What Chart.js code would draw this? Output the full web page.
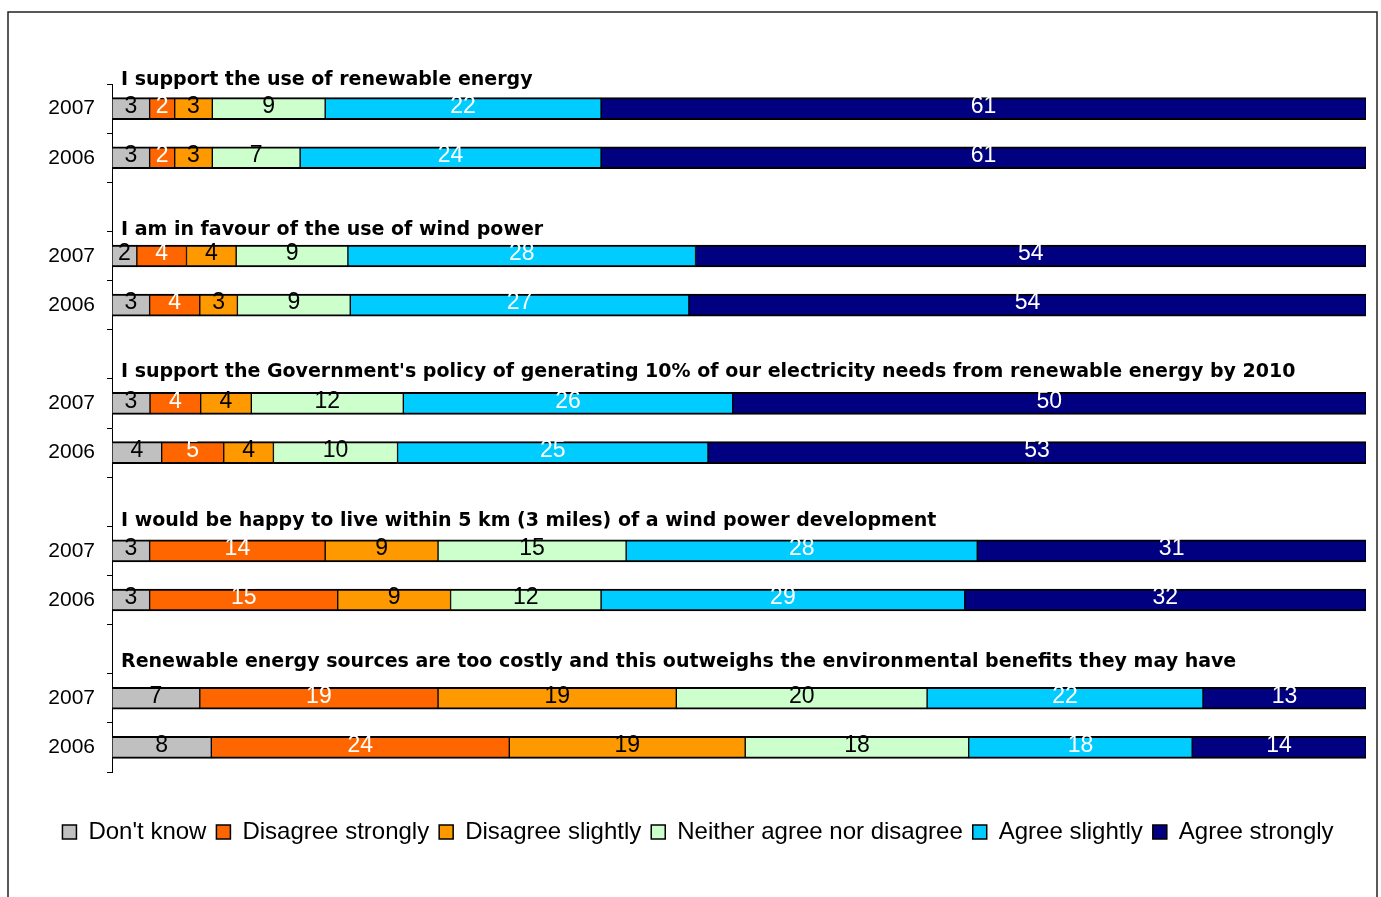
<!DOCTYPE html>
<html>
<head>
<meta charset="utf-8">
<script src="https://cdn.jsdelivr.net/npm/chart.js@4"></script>
<style>
  body { margin: 0; background: white; }
  #wrap { width: 1381px; height: 897px; }
</style>
</head>
<body>
<div id="wrap"><canvas id="myChart" width="1381" height="897"></canvas></div>
<script>
// Row labels (blank rows hold the statement titles)
yearLabels = ['2007', '2006', '', '2007', '2006', '', '2007', '2006', '', '2007', '2006', '', '2007', '2006']

// Statement titles, each sits above its 2007 row
statements = [
    'I support the use of renewable energy',
    'I am in favour of the use of wind power',
    "I support the Government's policy of generating 10% of our electricity needs from renewable energy by 2010",
    'I would be happy to live within 5 km (3 miles) of a wind power development',
    'Renewable energy sources are too costly and this outweighs the environmental benefits they may have'
]

// Series (percent of respondents)
seriesNames = ["Don't know", 'Disagree strongly', 'Disagree slightly', 'Neither agree nor disagree', 'Agree slightly', 'Agree strongly']
dontKnow         = [3, 3, null, 2, 3, null, 3, 4, null, 3, 3, null, 7, 8]
disagreeStrongly = [2, 2, null, 4, 4, null, 4, 5, null, 14, 15, null, 19, 24]
disagreeSlightly = [3, 3, null, 4, 3, null, 4, 4, null, 9, 9, null, 19, 19]
neither          = [9, 7, null, 9, 9, null, 12, 10, null, 15, 12, null, 20, 18]
agreeSlightly    = [22, 24, null, 28, 27, null, 26, 25, null, 28, 29, null, 22, 18]
agreeStrongly    = [61, 61, null, 54, 54, null, 50, 53, null, 31, 32, null, 13, 14]

// Formatting
seriesColors = ['#C0C0C0', '#FF6600', '#FF9900', '#CCFFCC', '#00CCFF', '#000080']
labelColors = ['black', 'white', 'black', 'black', 'white', 'white']
fontFamily = '"Liberation Sans", Arial, sans-serif'
titleOffsets = [29, 26, 31, 30, 36]   // px above the 2007 bar centre

allSeries = [dontKnow, disagreeStrongly, disagreeSlightly, neither, agreeSlightly, agreeStrongly]

// Bars are drawn as 100% stacked, so each row is scaled by its own total
rowTotals = yearLabels.map((l, i) => allSeries.reduce((s, arr) => s + (arr[i] || 0), 0))
function toPercent(arr) {
    return arr.map((v, i) => v === null ? null : v / rowTotals[i] * 100)
}

// Value labels in the middle of each segment
const valueLabels = {
    id: 'valueLabels',
    afterDatasetsDraw(chart) {
        const ctx = chart.ctx
        ctx.save()
        ctx.font = '23px ' + fontFamily
        ctx.textAlign = 'center'
        ctx.textBaseline = 'middle'
        chart.data.datasets.forEach((ds, di) => {
            const meta = chart.getDatasetMeta(di)
            meta.data.forEach((bar, i) => {
                const raw = ds.rawValues[i]
                if (raw === null) return
                const c = bar.getCenterPoint()
                ctx.fillStyle = labelColors[di]
                ctx.fillText(String(raw), c.x, c.y - 2)
            })
        })
        ctx.restore()
    }
}

// Statement titles and the outer frame
const titlesAndFrame = {
    id: 'titlesAndFrame',
    afterDraw(chart) {
        const ctx = chart.ctx
        const yScale = chart.scales.y
        ctx.save()
        ctx.font = 'bold 19px "DejaVu Sans", Verdana, sans-serif'
        ctx.fillStyle = 'black'
        ctx.textAlign = 'left'
        ctx.textBaseline = 'middle'
        statements.forEach((t, k) => {
            const y = yScale.getPixelForValue(k * 3) - titleOffsets[k]
            ctx.fillText(t, chart.chartArea.left + 9, y)
        })
        ctx.strokeStyle = '#222222'
        ctx.lineWidth = 1.5
        ctx.strokeRect(8, 12, 1369, 900)
        ctx.restore()
    }
}

const ctx = document.getElementById('myChart').getContext('2d')
const config = {
    type: 'bar',
    data: {
        labels: yearLabels,
        datasets: allSeries.map((arr, i) => ({
            label: seriesNames[i],
            data: toPercent(arr),
            rawValues: arr,
            backgroundColor: seriesColors[i],
            borderColor: 'black',
            borderWidth: { top: 2, bottom: 2, left: 1, right: 1 },
            borderSkipped: false,
            barThickness: 22
        }))
    },
    options: {
        indexAxis: 'y',
        responsive: false,
        animation: false,
        layout: {
            padding: { top: 84, right: 15, bottom: 43, left: 30 }
        },
        plugins: {
            tooltip: { enabled: false },
            legend: {
                display: true,
                position: 'bottom',
                title: {
                    display: true,
                    text: ' ',
                    font: { size: 14, lineHeight: 1 },
                    padding: { top: 24, bottom: 0 }
                },
                labels: {
                    boxWidth: 14,
                    boxHeight: 14,
                    padding: 10,
                    color: 'black',
                    font: { size: 24, family: fontFamily }
                }
            }
        },
        scales: {
            x: {
                stacked: true,
                display: false,
                min: 0,
                max: 100
            },
            y: {
                stacked: true,
                afterFit: (scale) => { scale.width = 82 },
                border: { display: true, color: 'black', width: 1 },
                grid: {
                    drawOnChartArea: false,
                    color: 'black',
                    tickLength: 5,
                    offset: true
                },
                ticks: {
                    color: 'black',
                    padding: 12,
                    font: { size: 21, family: fontFamily }
                }
            }
        }
    },
    plugins: [valueLabels, titlesAndFrame]
}

const myChart = new Chart(ctx, config)
</script>
</body>
</html>
